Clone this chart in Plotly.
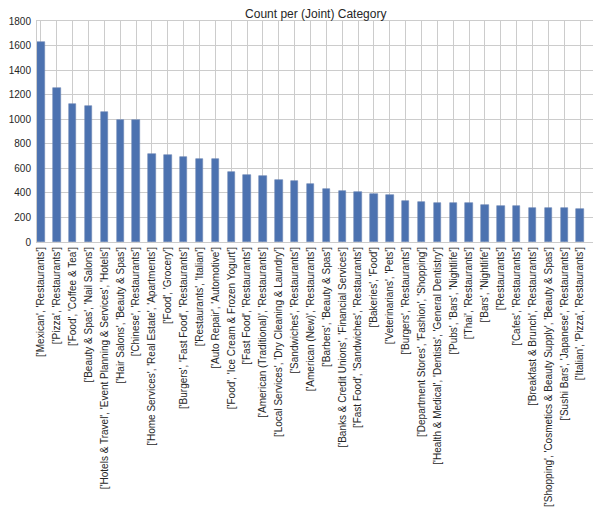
import plotly.graph_objects as go

# Joint categories, sorted by count
categories = [
    "['Mexican', 'Restaurants']",
    "['Pizza', 'Restaurants']",
    "['Food', 'Coffee & Tea']",
    "['Beauty & Spas', 'Nail Salons']",
    "['Hotels & Travel', 'Event Planning & Services', 'Hotels']",
    "['Hair Salons', 'Beauty & Spas']",
    "['Chinese', 'Restaurants']",
    "['Home Services', 'Real Estate', 'Apartments']",
    "['Food', 'Grocery']",
    "['Burgers', 'Fast Food', 'Restaurants']",
    "['Restaurants', 'Italian']",
    "['Auto Repair', 'Automotive']",
    "['Food', 'Ice Cream & Frozen Yogurt']",
    "['Fast Food', 'Restaurants']",
    "['American (Traditional)', 'Restaurants']",
    "['Local Services', 'Dry Cleaning & Laundry']",
    "['Sandwiches', 'Restaurants']",
    "['American (New)', 'Restaurants']",
    "['Barbers', 'Beauty & Spas']",
    "['Banks & Credit Unions', 'Financial Services']",
    "['Fast Food', 'Sandwiches', 'Restaurants']",
    "['Bakeries', 'Food']",
    "['Veterinarians', 'Pets']",
    "['Burgers', 'Restaurants']",
    "['Department Stores', 'Fashion', 'Shopping']",
    "['Health & Medical', 'Dentists', 'General Dentistry']",
    "['Pubs', 'Bars', 'Nightlife']",
    "['Thai', 'Restaurants']",
    "['Bars', 'Nightlife']",
    "['Restaurants']",
    "['Cafes', 'Restaurants']",
    "['Breakfast & Brunch', 'Restaurants']",
    "['Shopping', 'Cosmetics & Beauty Supply', 'Beauty & Spas']",
    "['Sushi Bars', 'Japanese', 'Restaurants']",
    "['Italian', 'Pizza', 'Restaurants']",
]
counts = [
    1632, 1253, 1123, 1110, 1058, 996, 994, 717, 709, 693,
    677, 677, 571, 549, 541, 509, 498, 474, 433, 417,
    409, 395, 384, 336, 327, 319, 319, 319, 303, 292,
    292, 279, 279, 279, 271,
]

grid = '#cccccc'
text = '#262626'

fig = go.Figure(go.Bar(
    x=categories,
    y=counts,
    width=0.47,
    marker=dict(color='#4c72b0', line=dict(color='#6f86b5', width=0.6)),
))

# the page body has an 8px margin, so the figure is a bit smaller than the window
fig.update_layout(
    width=593, height=510,
    margin=dict(l=29, r=5, t=13, b=276),
    paper_bgcolor='white',
    plot_bgcolor='white',
    font=dict(family='Liberation Sans, Arial, sans-serif', size=10, color=text),
    title=dict(text='Count per (Joint) Category', x=0.519, xanchor='center',
               y=0.996, yanchor='top', font=dict(size=12, color=text)),
    showlegend=False,
    bargap=0,
)

fig.update_xaxes(
    type='category', range=[-0.25, 35.0], tickangle=-90,
    showgrid=True, gridcolor=grid, gridwidth=1,
    showline=True, linecolor=grid, linewidth=1, mirror=True,
    ticks='', automargin=False, tickfont=dict(size=10, color=text),
)
fig.update_yaxes(
    range=[0, 1800], dtick=200, tick0=0,
    showgrid=True, gridcolor=grid, gridwidth=1, zeroline=False,
    showline=True, linecolor=grid, linewidth=1, mirror=True,
    ticks='outside', ticklen=3, tickcolor='rgba(0,0,0,0)',
    automargin=False, tickfont=dict(size=10, color=text),
)

fig.write_html("out.html")
